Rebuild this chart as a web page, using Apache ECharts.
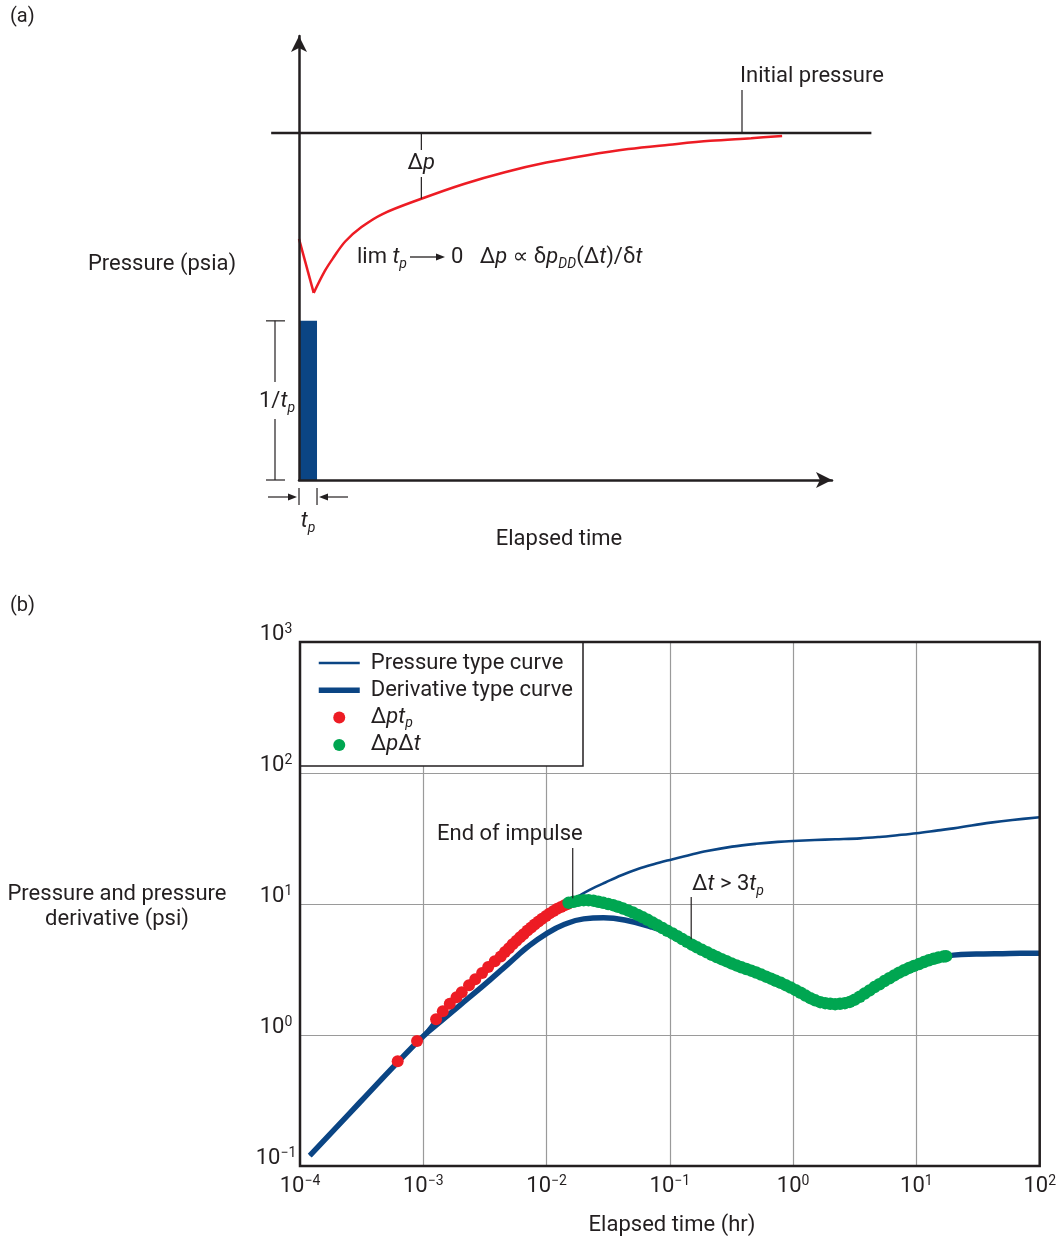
<!DOCTYPE html>
<html>
<head>
<meta charset="utf-8">
<script src="https://cdn.jsdelivr.net/npm/echarts@6/dist/echarts.min.js"></script>
<style>
  html, body { margin: 0; padding: 0; background: #fff; }
  #chart { width: 1059px; height: 1241px; }
</style>
</head>
<body>
<div id="chart"></div>
<script>
const FONT = 'Roboto, "Noto Sans", "DejaVu Sans", sans-serif';
const INK = '#231f20';
const NAVY = '#0b4584';
const RED = '#ed1c24';
const GREEN = '#00a651';
const GRID_GRAY = '#9a9a9a';

// ---------- (a) rate impulse and pressure response (arbitrary units) ----------
const buildupTime     = [0, 2.8, 4.9, 6.5, 8.8, 11.9, 15.9, 23.3, 31.4, 39.2, 47.1, 54.9, 62.7, 70.5, 78.3, 86.1, 92.0];
const buildupPressure = [55.3, 42.9, 47.9, 50.9, 54.7, 58.0, 61.0, 64.5, 67.9, 70.6, 72.8, 74.5, 75.9, 76.9, 77.8, 78.4, 78.9];
const initialPressure = 79.6;
const initialLineSpan = [-5.3, 109];
const impulseDuration = 3.43;   // t_p
const impulseRate = 36.5;       // 1/t_p
const deltaPMarkTime = 23.3;

// ---------- (b) type curves and data, log-log ----------
const pressureTime  = [1.2e-4, 3e-4, 6e-4, 1e-3, 1.27e-3, 1.64e-3, 2.05e-3, 2.64e-3, 3.36e-3, 4.25e-3, 5.3e-3, 6.5e-3, 8.0e-3, 9.9e-3, 1.22e-2, 1.48e-2, 1.7e-2, 2.0e-2, 2.5e-2, 3.0e-2, 4.0e-2, 5.5e-2, 7.5e-2, 0.1, 0.15, 0.2, 0.32, 0.5, 0.75, 1, 1.5, 2.2, 3.5, 5, 7, 10, 15, 20, 28, 40, 60, 100];
const pressureValue = [0.12, 0.3, 0.6, 1.0, 1.32, 1.73, 2.12, 2.66, 3.3, 3.98, 4.92, 5.88, 6.97, 8.1, 9.2, 10.0, 11.0, 12.1, 13.5, 14.6, 16.5, 18.5, 20.2, 21.7, 23.9, 25.4, 27.4, 28.8, 29.8, 30.3, 30.8, 31.2, 31.7, 32.5, 33.5, 34.7, 36.5, 37.8, 39.8, 41.8, 43.8, 46.0];

const derivativeTime  = [1.2e-4, 3e-4, 6e-4, 1e-3, 1.4e-3, 2e-3, 2.7e-3, 3.5e-3, 4.4e-3, 5.5e-3, 7e-3, 1e-2, 1.4e-2, 2e-2, 2.9e-2, 4.3e-2, 7e-2, 0.1, 0.15, 0.2, 0.26, 0.35, 0.47, 0.62, 0.83, 1.1, 1.47, 1.96, 2.5, 3.16, 4.2, 5.6, 7.4, 10, 13.2, 17.5, 23, 35, 50, 70, 100];
const derivativeValue = [0.12, 0.3, 0.6, 0.98, 1.28, 1.7, 2.15, 2.65, 3.2, 3.85, 4.7, 5.95, 7.0, 7.7, 7.85, 7.55, 6.7, 5.95, 4.92, 4.28, 3.79, 3.37, 3.07, 2.75, 2.46, 2.14, 1.86, 1.73, 1.73, 1.86, 2.2, 2.6, 3.02, 3.43, 3.79, 4.0, 4.11, 4.16, 4.18, 4.2, 4.2];

const impulseDotTime  = [6.2e-4, 8.9e-4, 1.27e-3, 1.44e-3, 1.64e-3, 1.86e-3, 2.05e-3, 2.35e-3, 2.64e-3, 3.0e-3, 3.36e-3, 3.8e-3, 4.25e-3, 4.6e-3, 4.95e-3, 5.3e-3, 5.7e-3, 6.1e-3, 6.5e-3, 7.0e-3, 7.5e-3, 8.0e-3, 8.6e-3, 9.2e-3, 9.9e-3, 1.06e-2, 1.14e-2, 1.22e-2, 1.31e-2, 1.4e-2, 1.48e-2];
const impulseDotValue = [0.63, 0.9, 1.32, 1.52, 1.73, 1.94, 2.12, 2.4, 2.66, 2.97, 3.3, 3.65, 3.98, 4.3, 4.6, 4.92, 5.25, 5.58, 5.88, 6.27, 6.62, 6.97, 7.35, 7.72, 8.1, 8.48, 8.85, 9.2, 9.5, 9.78, 10.0];

const drawdownDotTime = [0.0151, 0.0166, 0.0182, 0.0200, 0.0219, 0.0240, 0.0263, 0.0288, 0.0316, 0.0347, 0.0380, 0.0417, 0.0457, 0.0501, 0.0550, 0.0603, 0.0661, 0.0724, 0.0794, 0.0871, 0.0955, 0.105, 0.115, 0.126, 0.138, 0.151, 0.166, 0.182, 0.200, 0.219, 0.240, 0.263, 0.288, 0.316, 0.347, 0.380, 0.417, 0.457, 0.501, 0.550, 0.603, 0.661, 0.724, 0.794, 0.871, 0.955, 1.05, 1.15, 1.26, 1.38, 1.51, 1.66, 1.82, 2.00, 2.19, 2.40, 2.63, 2.88, 3.16, 3.47, 3.80, 4.17, 4.57, 5.01, 5.50, 6.03, 6.61, 7.24, 7.94, 8.71, 9.55, 10.5, 11.5, 12.6, 13.8, 15.1, 16.6, 17.4];
const drawdownDotValue = [10.2, 10.4, 10.6, 10.7, 10.7, 10.6, 10.4, 10.2, 10.0, 9.8, 9.53, 9.23, 8.93, 8.61, 8.26, 7.91, 7.57, 7.21, 6.87, 6.55, 6.24, 5.96, 5.68, 5.40, 5.14, 4.89, 4.67, 4.47, 4.28, 4.10, 3.94, 3.79, 3.66, 3.52, 3.40, 3.29, 3.19, 3.10, 3.00, 2.89, 2.79, 2.69, 2.59, 2.50, 2.40, 2.30, 2.20, 2.10, 2.00, 1.91, 1.84, 1.78, 1.75, 1.73, 1.72, 1.73, 1.75, 1.79, 1.86, 1.96, 2.07, 2.19, 2.32, 2.44, 2.58, 2.71, 2.85, 2.99, 3.12, 3.25, 3.37, 3.48, 3.60, 3.72, 3.82, 3.91, 3.97, 4.00];

const timeTicks = [1e-4, 1e-3, 1e-2, 1e-1, 1, 10, 100];
const timeTickExponents = ['\u22124', '\u22123', '\u22122', '\u22121', '0', '1', '2'];
const valueTicks = [0.1, 1, 10, 100, 1000];
const valueTickExponents = ['\u22121', '0', '1', '2', '3'];

const endOfImpulseTime = 0.0163;
const endOfImpulseValue = 10.3;
const lateTimeMarkTime = 0.149;
const lateTimeMarkValue = 4.92;

const zip = (a, b) => a.map((x, i) => [x, b[i]]);
const tickIndex = (ticks, v) => ticks.findIndex(t => Math.abs(Math.log10(t / v)) < 0.01);

// power-of-ten labels: exponent hangs from the top of the line;
// the spacer line 'z' drops the "10" baseline onto the grid line for the value axis
const tickRich = {
  b: { fontFamily: FONT, fontSize: 22, color: INK, lineHeight: 24 },
  s: { fontFamily: FONT, fontSize: 14, color: INK, lineHeight: 14, verticalAlign: 'top' },
  z: { fontFamily: FONT, fontSize: 8, color: INK, lineHeight: 15 }
};

const mathRich = (size, lh) => ({
  n: { fontFamily: FONT, fontSize: size, color: INK, lineHeight: lh },
  i: { fontFamily: FONT, fontSize: size, color: INK, fontStyle: 'italic', lineHeight: lh },
  sub: { fontFamily: FONT, fontSize: Math.round(size * 0.64), color: INK, fontStyle: 'italic', lineHeight: Math.round(size * 0.64), verticalAlign: 'bottom' },
  g: { fontFamily: FONT, fontSize: size, color: INK, width: 6, lineHeight: lh }
});

const legendText = {
  'Pressure type curve': '{g| }{n|Pressure type curve}',
  'Derivative type curve': '{g| }{n|Derivative type curve}',
  'Δpt_p': '{g| }{n|Δ}{i|pt}{sub|p}',
  'ΔpΔt': '{g| }{n|Δ}{i|p}{n|Δ}{i|t}'
};

const chart = echarts.init(document.getElementById('chart'));

const buildupPoints = zip(buildupTime, buildupPressure);

const option = {
  animation: false,
  backgroundColor: '#fff',
  textStyle: { fontFamily: FONT, color: INK },
  grid: [
    { left: 300, top: 642, width: 745, height: 524 },
    { left: 299, top: 36, width: 533, height: 444 }
  ],
  xAxis: [
    {
      type: 'log', gridIndex: 0, logBase: 10, min: 1e-4, max: 100, splitNumber: 6,
      axisLine: { show: false }, axisTick: { show: false },
      splitLine: { show: true, showMinLine: false, showMaxLine: false, lineStyle: { color: GRID_GRAY, width: 1.2 } },
      axisLabel: {
        margin: 8, align: 'center',
        formatter: v => '{b|10}{s|' + timeTickExponents[tickIndex(timeTicks, v)] + '}',
        rich: tickRich
      }
    },
    {
      type: 'value', gridIndex: 1, min: 0, max: 101.5, z: 5,
      axisLine: { show: true, onZero: true, symbol: ['none', 'arrow'], symbolSize: [12, 16], lineStyle: { color: INK, width: 2.5 } },
      axisTick: { show: false }, axisLabel: { show: false }, splitLine: { show: false }
    }
  ],
  yAxis: [
    {
      type: 'log', gridIndex: 0, logBase: 10, min: 0.1, max: 1000, splitNumber: 4,
      axisLine: { show: false }, axisTick: { show: false },
      splitLine: { show: true, showMinLine: false, showMaxLine: false, lineStyle: { color: GRID_GRAY, width: 1.2 } },
      axisLabel: {
        margin: 24, align: 'center', verticalAlign: 'middle',
        formatter: v => '{b|10}{s|' + valueTickExponents[tickIndex(valueTicks, v)] + '}\n{z| }',
        rich: tickRich
      }
    },
    {
      type: 'value', gridIndex: 1, min: 0, max: 101.83, z: 5,
      axisLine: { show: true, onZero: true, symbol: ['none', 'arrow'], symbolSize: [12, 16], lineStyle: { color: INK, width: 2.5 } },
      axisTick: { show: false }, axisLabel: { show: false }, splitLine: { show: false }
    }
  ],
  legend: {
    left: 300, top: 642, orient: 'vertical',
    padding: [8, 10, 8, 16],
    itemWidth: 41, itemHeight: 12, itemGap: 1.3,
    selectedMode: false,
    data: [
      { name: 'Pressure type curve', itemStyle: { opacity: 0 }, lineStyle: { width: 2.6 } },
      { name: 'Derivative type curve', itemStyle: { opacity: 0 }, lineStyle: { width: 5.5 } },
      'Δpt_p', 'ΔpΔt'
    ],
    formatter: name => legendText[name],
    textStyle: { fontFamily: FONT, fontSize: 22, color: INK, lineHeight: 26, rich: mathRich(22, 26) }
  },
  series: [
    {
      name: 'Derivative type curve', type: 'line', xAxisIndex: 0, yAxisIndex: 0,
      data: zip(derivativeTime, derivativeValue), symbol: 'none', smooth: 0.45, z: 2,
      lineStyle: { color: NAVY, width: 5.5 }, itemStyle: { color: NAVY }
    },
    {
      name: 'Pressure type curve', type: 'line', xAxisIndex: 0, yAxisIndex: 0,
      data: zip(pressureTime, pressureValue), symbol: 'none', smooth: 0.35, z: 3,
      lineStyle: { color: NAVY, width: 2.6 }, itemStyle: { color: NAVY }
    },
    {
      name: 'Δpt_p', type: 'scatter', xAxisIndex: 0, yAxisIndex: 0,
      data: zip(impulseDotTime, impulseDotValue), symbol: 'circle', symbolSize: 12, z: 4,
      itemStyle: { color: RED, opacity: 1 }
    },
    {
      name: 'ΔpΔt', type: 'scatter', xAxisIndex: 0, yAxisIndex: 0,
      data: zip(drawdownDotTime, drawdownDotValue), symbol: 'circle', symbolSize: 12.5, z: 4,
      itemStyle: { color: GREEN, opacity: 1 }
    },
    {
      name: 'impulse', type: 'custom', xAxisIndex: 1, yAxisIndex: 1, z: 2,
      data: [[0, impulseDuration, impulseRate]],
      renderItem: (params, api) => {
        const p0 = api.coord([api.value(0), 0]);
        const p1 = api.coord([api.value(1), api.value(2)]);
        return { type: 'rect', shape: { x: p0[0], y: p1[1], width: p1[0] - p0[0], height: p0[1] - p1[1] }, style: { fill: NAVY } };
      }
    },
    {
      name: 'initial', type: 'custom', xAxisIndex: 1, yAxisIndex: 1, z: 3, clip: false,
      data: [[initialLineSpan[0], initialLineSpan[1], initialPressure]],
      renderItem: (params, api) => {
        const p0 = api.coord([api.value(0), api.value(2)]);
        const p1 = api.coord([api.value(1), api.value(2)]);
        return { type: 'line', shape: { x1: p0[0], y1: p0[1], x2: p1[0], y2: p1[1] }, style: { stroke: INK, lineWidth: 2.5 } };
      }
    },
    {
      name: 'drawdown', type: 'line', xAxisIndex: 1, yAxisIndex: 1, z: 3,
      data: buildupPoints.slice(0, 2), symbol: 'none',
      lineStyle: { color: RED, width: 2.5, join: 'miter' }
    },
    {
      name: 'buildup', type: 'line', xAxisIndex: 1, yAxisIndex: 1, z: 3,
      data: buildupPoints.slice(1), symbol: 'none', smooth: 0.35,
      lineStyle: { color: RED, width: 2.5 }
    }
  ]
};

chart.setOption(option);

// ---------- annotations placed from the axes' own scales ----------
const A = (x, y) => chart.convertToPixel({ gridIndex: 1 }, [x, y]);
const B = (t, v) => chart.convertToPixel({ gridIndex: 0 }, [t, v]);

const text = (x, y, str, align, opts) => ({
  type: 'text', z: 20, x, y,
  style: Object.assign({
    text: str, fill: INK, fontFamily: FONT, fontSize: 22,
    align: align || 'left', textAlign: align || 'left',
    verticalAlign: 'middle', textVerticalAlign: 'middle'
  }, opts || {})
});
const seg = (x1, y1, x2, y2, w) => ({
  type: 'line', z: 20, shape: { x1, y1, x2, y2 }, style: { stroke: INK, lineWidth: w || 1.2 }
});
const head = (pts) => ({ type: 'polygon', z: 20, shape: { points: pts }, style: { fill: INK } });
const rich22 = mathRich(22, 28);

const yInit = A(0, initialPressure)[1];
const dpX = A(deltaPMarkTime, 0)[0];
const dpCurveY = A(0, buildupPressure[buildupTime.indexOf(deltaPMarkTime)])[1];
const barTop = A(0, impulseRate)[1];
const barBottom = A(0, 0)[1];
const barLeft = A(0, 0)[0];
const barRight = A(impulseDuration, 0)[0];

const plotTL = B(1e-4, 1000);
const plotBR = B(100, 0.1);
const eoiX = B(endOfImpulseTime, 1)[0];
const eoiY = B(endOfImpulseTime, endOfImpulseValue)[1];
const ltX = B(lateTimeMarkTime, 1)[0];
const ltY = B(lateTimeMarkTime, lateTimeMarkValue)[1];

const graphics = [
  // panel (a)
  text(10, 17, '(a)', 'left', { fontSize: 20 }),
  text(740, 76, 'Initial pressure'),
  seg(742, 90, 742, yInit),
  seg(dpX, yInit, dpX, yInit + 17),
  text(dpX, 163, '{n|Δ}{i|p}', 'center', { rich: rich22 }),
  seg(dpX, 177, dpX, dpCurveY),
  text(407, 257, '{n|lim }{i|t}{sub|p}', 'right', { rich: rich22 }),
  seg(410, 257, 438, 257, 1.3),
  head([[445, 257], [436, 253.5], [436, 260.5]]),
  text(451, 257, '{n|0   Δ}{i|p}{n| ∝ δ}{i|p}{sub|DD}{n|(Δ}{i|t}{n|)/δ}{i|t}', 'left', { rich: rich22 }),
  text(162, 264, 'Pressure (psia)', 'center'),
  seg(266, barTop, 285, barTop),
  seg(266, barBottom, 285, barBottom),
  seg(275, barTop, 275, 382),
  seg(275, 419, 275, barBottom),
  text(277, 401, '{n|1/}{i|t}{sub|p}', 'center', { rich: rich22 }),
  seg(barLeft, 488, barLeft, 505),
  seg(barRight, 488, barRight, 505),
  seg(268, 497, barLeft - 9, 497),
  head([[barLeft - 2, 497], [barLeft - 11, 493.5], [barLeft - 11, 500.5]]),
  seg(348, 497, barRight + 9, 497),
  head([[barRight + 2, 497], [barRight + 11, 493.5], [barRight + 11, 500.5]]),
  text((barLeft + barRight) / 2, 521, '{i|t}{sub|p}', 'center', { rich: rich22 }),
  text(559, 539, 'Elapsed time', 'center'),

  // panel (b)
  text(10, 606, '(b)', 'left', { fontSize: 20 }),
  text(117, 894, 'Pressure and pressure', 'center'),
  text(117, 919, 'derivative (psi)', 'center'),
  text(672, 1225, 'Elapsed time (hr)', 'center'),
  text(437, 834, 'End of impulse'),
  seg(eoiX, 848, eoiX, eoiY - 4),
  text(692, 884, '{n|Δ}{i|t}{n| > 3}{i|t}{sub|p}', 'left', { rich: rich22 }),
  seg(ltX, 897, ltX, ltY - 5),
  {
    type: 'rect', z: 3,
    shape: { x: plotTL[0], y: plotTL[1], width: 283, height: 124 },
    style: { fill: '#fff', stroke: INK, lineWidth: 1.5 }
  },
  {
    type: 'rect', z: 10,
    shape: { x: plotTL[0], y: plotTL[1], width: plotBR[0] - plotTL[0], height: plotBR[1] - plotTL[1] },
    style: { fill: 'none', stroke: INK, lineWidth: 2.5 }
  }
];

chart.setOption({ graphic: graphics });
</script>
</body>
</html>
